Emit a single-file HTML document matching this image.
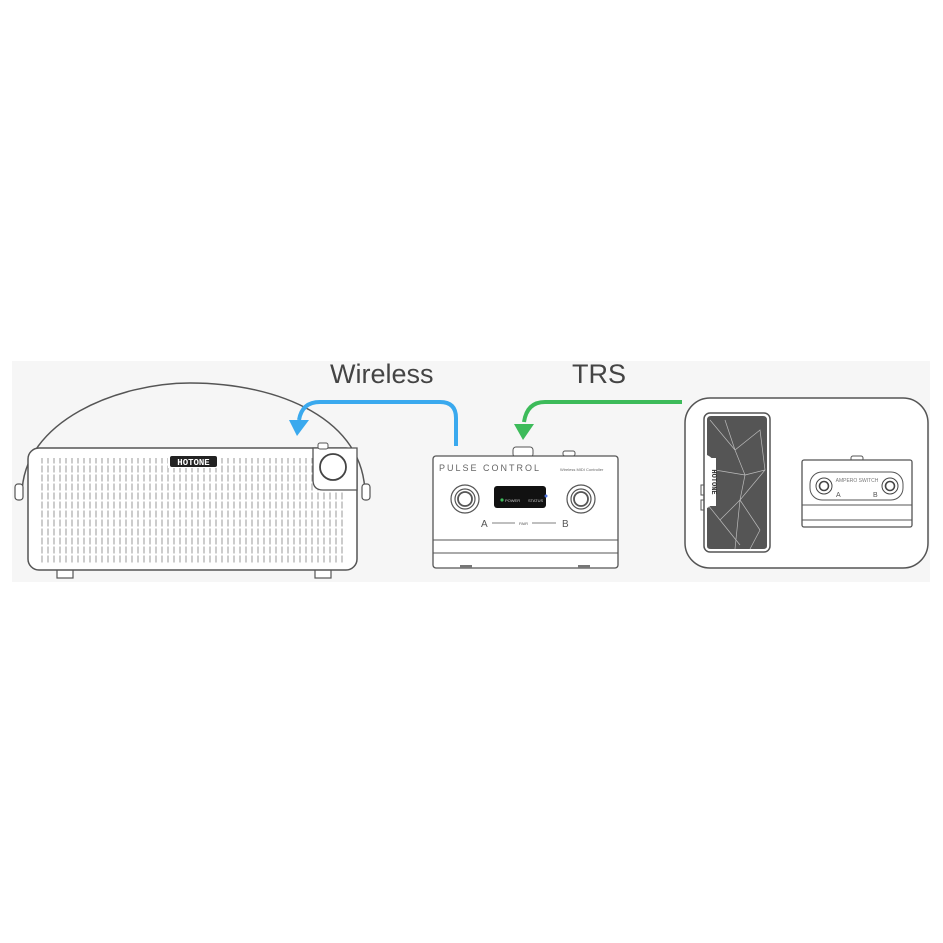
<!DOCTYPE html>
<html><head><meta charset="utf-8"><style>
html,body{margin:0;padding:0;background:#fff;width:943px;height:943px;overflow:hidden}
svg{display:block}
</style></head><body>
<svg width="943" height="943" viewBox="0 0 943 943" xmlns="http://www.w3.org/2000/svg">
<defs>
<pattern id="grill" x="40" y="456" width="6" height="9" patternUnits="userSpaceOnUse">
<line x1="2" y1="0.5" x2="2" y2="7.5" stroke="#999" stroke-width="1"/>
</pattern>
</defs>
<rect x="12" y="361" width="918" height="221" fill="#f6f6f6"/>
<text x="330" y="383" font-family="Liberation Sans, sans-serif" font-size="27" fill="#444">Wireless</text>
<text x="572" y="383" font-family="Liberation Sans, sans-serif" font-size="27" fill="#444">TRS</text>
<!-- amp -->
<path d="M22,495 C22,420 120,383 190,383 C280,383 365,420 365,495" fill="none" stroke="#555" stroke-width="1.5"/>
<rect x="15" y="484" width="8" height="16" rx="3" fill="#fff" stroke="#555" stroke-width="1.2"/>
<rect x="362" y="484" width="8" height="16" rx="3" fill="#fff" stroke="#555" stroke-width="1.2"/>
<rect x="57" y="569" width="16" height="9" fill="#fff" stroke="#555" stroke-width="1.2"/>
<rect x="315" y="569" width="16" height="9" fill="#fff" stroke="#555" stroke-width="1.2"/>
<rect x="28" y="448" width="329" height="122" rx="11" fill="#fff" stroke="#555" stroke-width="1.5"/>
<rect x="40" y="458" width="306" height="106" fill="url(#grill)"/>
<path d="M313,448 V480 Q313,490 323,490 H357 V448 Z" fill="#fff" stroke="#555" stroke-width="1.3"/>
<rect x="318" y="443" width="10" height="6" rx="2" fill="#fff" stroke="#555"/>
<circle cx="333" cy="467" r="13" fill="#fff" stroke="#444" stroke-width="1.8"/>
<rect x="168" y="454" width="50" height="14" fill="#fff"/>
<rect x="170" y="456" width="47" height="11" rx="2" fill="#222"/>
<text x="193.5" y="465" text-anchor="middle" font-family="Liberation Mono, monospace" font-weight="bold" font-size="9" fill="#fff">HOTONE</text>
<!-- blue arrow -->
<path d="M456,446 V418 Q456,402 440,402 H320 Q302,402 299,420" fill="none" stroke="#3aa9ee" stroke-width="4"/>
<polygon points="289,420 309,420 297,436" fill="#3aa9ee"/>
<!-- green arrow -->
<path d="M682,402 H545 Q527,402 524,422" fill="none" stroke="#3dbb5a" stroke-width="4"/>
<polygon points="514,424 534,424 523,440" fill="#3dbb5a"/>
<!-- pulse control -->
<rect x="513" y="447" width="20" height="10" rx="3" fill="#fff" stroke="#555"/>
<rect x="563" y="451" width="12" height="5" rx="2" fill="#fff" stroke="#555"/>
<rect x="433" y="456" width="185" height="112" rx="3" fill="#fff" stroke="#555" stroke-width="1.3"/>
<line x1="433" y1="540" x2="618" y2="540" stroke="#555"/>
<line x1="433" y1="553" x2="618" y2="553" stroke="#555"/>
<rect x="460" y="565" width="12" height="3" fill="#777"/><rect x="578" y="565" width="12" height="3" fill="#777"/>
<text x="439" y="471" font-family="Liberation Sans, sans-serif" font-size="9" letter-spacing="2" fill="#666">PULSE CONTROL</text>
<text x="560" y="471" font-family="Liberation Sans, sans-serif" font-size="4" fill="#666">Wireless MIDI Controller</text>
<rect x="494" y="486" width="52" height="22" rx="3" fill="#111"/>
<circle cx="502" cy="500" r="1.6" fill="#3dbb5a"/>
<text x="505" y="502" font-family="Liberation Sans, sans-serif" font-size="4" fill="#ccc">POWER</text>
<text x="528" y="502" font-family="Liberation Sans, sans-serif" font-size="4" fill="#ccc">STATUS</text>
<circle cx="546" cy="496" r="1.5" fill="#4a6fd8"/>
<g fill="none" stroke="#555" stroke-width="1.2">
<circle cx="465" cy="499" r="14"/><circle cx="465" cy="499" r="10"/><circle cx="465" cy="499" r="7" stroke-width="1.8"/>
<circle cx="581" cy="499" r="14"/><circle cx="581" cy="499" r="10"/><circle cx="581" cy="499" r="7" stroke-width="1.8"/>
<line x1="492" y1="523" x2="515" y2="523" stroke-width="0.8"/><line x1="532" y1="523" x2="556" y2="523" stroke-width="0.8"/>
</g>
<text x="481" y="527" font-family="Liberation Sans, sans-serif" font-size="10" fill="#555">A</text>
<text x="562" y="527" font-family="Liberation Sans, sans-serif" font-size="10" fill="#555">B</text>
<text x="519" y="525" font-family="Liberation Sans, sans-serif" font-size="4" fill="#555">PAIR</text>
<!-- right box -->
<rect x="685" y="398" width="243" height="170" rx="25" fill="#fff" stroke="#555" stroke-width="1.5"/>
<rect x="701" y="485" width="5" height="10" fill="#fff" stroke="#555"/><rect x="701" y="500" width="5" height="10" fill="#fff" stroke="#555"/>
<rect x="704" y="413" width="66" height="139" rx="6" fill="#fff" stroke="#555" stroke-width="1.5"/>
<path d="M707,420 Q707,416 711,416 H763 Q767,416 767,420 V546 Q767,549 763,549 H711 Q707,549 707,546 V508 Q714,505 714,498 V465 Q714,458 707,455 Z" fill="#555"/>
<g stroke="#bbb" stroke-width="0.7" fill="none">
<path d="M710,420 L735,450 L760,430 L765,470 L740,500 L760,530 M735,450 L745,475 L740,500 L720,520 L708,505 M725,420 L735,450 M745,475 L765,470 M720,520 L740,545 M740,500 L735,549 M760,530 L750,549 M715,470 L745,475"/>
</g>
<rect x="707" y="458" width="9" height="48" fill="#fff"/>
<text x="712" y="482" transform="rotate(90 712 482)" text-anchor="middle" font-family="Liberation Mono, monospace" font-weight="bold" font-size="7" fill="#333">HOTONE</text>
<rect x="851" y="456" width="12" height="5" rx="2" fill="#fff" stroke="#555"/>
<rect x="802" y="460" width="110" height="67" rx="2" fill="#fff" stroke="#555" stroke-width="1.3"/>
<line x1="802" y1="505" x2="912" y2="505" stroke="#555"/><line x1="802" y1="520" x2="912" y2="520" stroke="#555"/>
<rect x="810" y="472" width="93" height="28" rx="12" fill="#fff" stroke="#555"/>
<g fill="none" stroke="#444"><circle cx="824" cy="486" r="8"/><circle cx="824" cy="486" r="4.5" stroke-width="1.6"/><circle cx="890" cy="486" r="8"/><circle cx="890" cy="486" r="4.5" stroke-width="1.6"/></g>
<text x="857" y="482" text-anchor="middle" font-family="Liberation Sans, sans-serif" font-size="5" fill="#777">AMPERO SWITCH</text>
<text x="836" y="497" font-family="Liberation Sans, sans-serif" font-size="7" fill="#555">A</text>
<text x="873" y="497" font-family="Liberation Sans, sans-serif" font-size="7" fill="#555">B</text>
</svg>
</body></html>
